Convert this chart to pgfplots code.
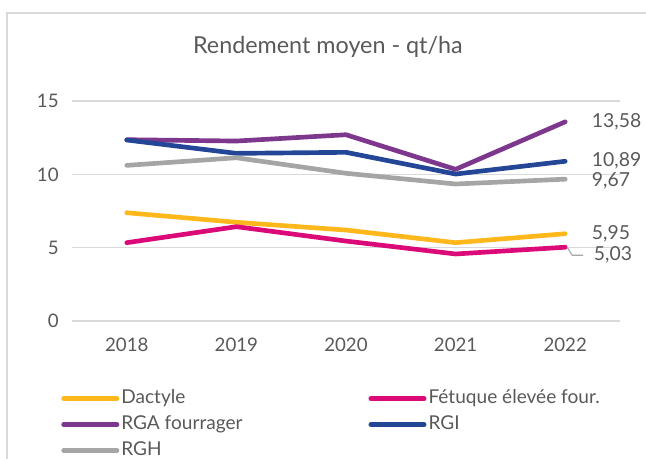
\documentclass[border=0pt]{standalone}
\usepackage{pgfplots}
\pgfplotsset{compat=1.18}
\usepackage{fontspec}
\setmainfont{Lato}
\definecolor{txt}{RGB}{89,89,89}
\definecolor{gridc}{RGB}{217,217,217}
\definecolor{cdact}{RGB}{255,184,28}
\definecolor{cfet}{RGB}{220,10,120}
\definecolor{crga}{RGB}{125,55,140}
\definecolor{crgi}{RGB}{35,70,150}
\definecolor{crgh}{RGB}{165,165,165}
\begin{document}
\begin{tikzpicture}
\begin{axis}[
  at={(0pt,0pt)}, anchor=south west,
  scale only axis, width=411pt, height=165pt,
  xmin=-0.5, xmax=4.5, ymin=0, ymax=15,
  xtick={0,1,2,3,4}, xticklabels={2018,2019,2020,2021,2022},
  ytick={0,5,10,15},
  ymajorgrids, grid style={gridc, line width=1.2pt},
  axis line style={draw=none}, tick style={draw=none},
  /pgf/number format/assume math mode=true,
  ticklabel style={font=\fontsize{14}{16}\selectfont, text=txt},
  xticklabel style={yshift=-9.5pt},
  yticklabel style={xshift=-6.5pt},
  title={Rendement moyen - qt/ha},
  title style={at={(0.467,1.21)}, anchor=center, font=\fontsize{17.5}{20}\selectfont, text=txt},
  legend columns=2,
  legend cell align=left,
  legend image code/.code={\draw[#1, line cap=round] (0pt,0pt) -- (40pt,0pt);},
  legend style={at={(-0.02,-0.30)}, anchor=north west, draw=none, fill=none,
    font=\fontsize{14.3}{16}\selectfont, text=txt, inner xsep=0pt,
    nodes={inner xsep=1.5pt, inner ysep=0pt, text height=10pt, text depth=3pt},
    row sep=6.5pt,
    /tikz/every even column/.append style={column sep=93pt}},
  every axis plot/.append style={line width=3.5pt, line cap=round, line join=round},
  clip=false,
]
\addplot[cdact] coordinates {(0,7.38) (1,6.73) (2,6.20) (3,5.34) (4,5.95)}
  node[pos=1, anchor=west, xshift=15pt, text=txt, font=\fontsize{14.5}{16}\selectfont] {5,95};
\addlegendentry{Dactyle}
\addplot[cfet] coordinates {(0,5.34) (1,6.43) (2,5.45) (3,4.57) (4,5.03)}
  node[pos=1, anchor=west, xshift=16.5pt, yshift=-6pt, text=txt, font=\fontsize{14.5}{16}\selectfont] {5,03};
\addlegendentry{Fétuque élevée four.}
\addplot[crga] coordinates {(0,12.36) (1,12.27) (2,12.70) (3,10.34) (4,13.58)}
  node[pos=1, anchor=west, xshift=15pt, text=txt, font=\fontsize{14.5}{16}\selectfont] {13,58};
\addlegendentry{RGA fourrager}
\addplot[crgi] coordinates {(0,12.34) (1,11.43) (2,11.50) (3,10.02) (4,10.89)}
  node[pos=1, anchor=west, xshift=15pt, text=txt, font=\fontsize{14.5}{16}\selectfont] {10,89};
\addlegendentry{RGI}
\addplot[crgh] coordinates {(0,10.61) (1,11.13) (2,10.07) (3,9.34) (4,9.67)}
  node[pos=1, anchor=west, xshift=15pt, yshift=-1pt, text=txt, font=\fontsize{14.5}{16}\selectfont] {9,67};
\addlegendentry{RGH}
\draw[crgh, line width=0.8pt] (axis cs:4,5.03) ++(1.5pt,0pt) -- ++(3.75pt,-6pt) -- ++(8.25pt,0pt);
\end{axis}
\draw[gridc, line width=1.2pt] (-48.75pt,-103.5pt) -- (-48.75pt,231pt) -- (440pt,231pt);
\pgfresetboundingbox
\path[use as bounding box] (-54pt,-103.5pt) rectangle (430.5pt,240.75pt);
\end{tikzpicture}
\end{document}
